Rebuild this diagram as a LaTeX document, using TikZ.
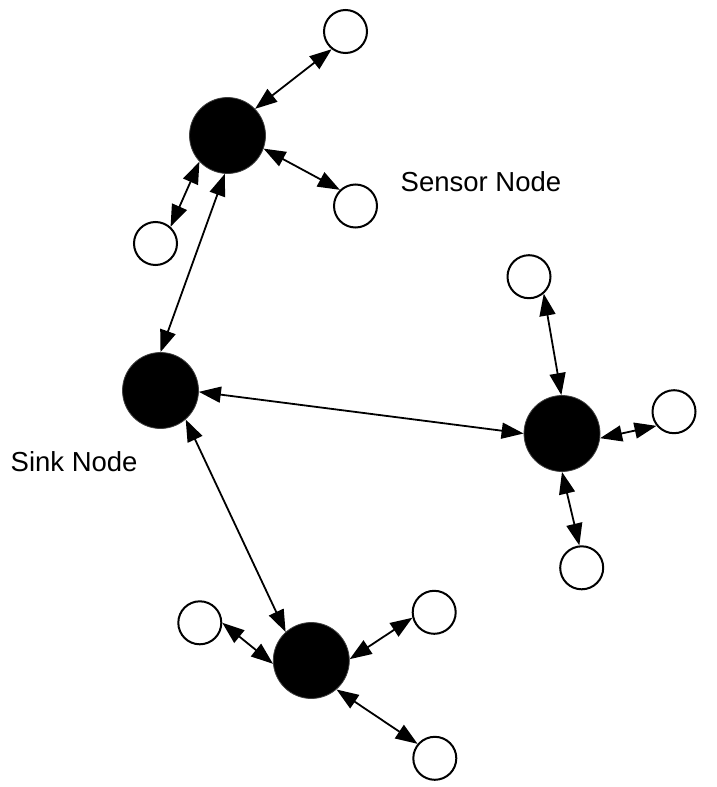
\documentclass[tikz,border=0pt]{standalone}
\usepackage{fontspec}
\setmainfont{Liberation Sans}
\usetikzlibrary{arrows.meta}
\begin{document}
\begin{tikzpicture}[x=1pt,y=-1pt,
  bignode/.style={circle,fill=black,draw=black!75,line width=0.8pt,minimum size=76pt,inner sep=0pt},
  smallnode/.style={circle,fill=white,draw=black,line width=2pt,minimum size=43pt,inner sep=0pt},
  link/.style={line width=1.8pt,{Triangle[length=22pt,width=16pt]}-{Triangle[length=22pt,width=16pt]}},
  lbl/.style={font=\fontsize{27.5}{31}\selectfont,anchor=base west,inner sep=0pt}]
\useasboundingbox (0,0) rectangle (717,787);
% big nodes
\node[bignode] (A) at (227.5,135.5) {};
\node[bignode] (S) at (160.5,390.5) {};
\node[bignode] (C) at (562,433.5) {};
\node[bignode] (D) at (311.3,660.5) {};
% small nodes
\node[smallnode] (a1) at (345.5,31.5) {};
\node[smallnode] (a2) at (355.5,206) {};
\node[smallnode] (a3) at (155.5,243.5) {};
\node[smallnode] (c1) at (529,276.7) {};
\node[smallnode] (c2) at (674,411.7) {};
\node[smallnode] (c3) at (581.7,567.8) {};
\node[smallnode] (d1) at (199.8,622.8) {};
\node[smallnode] (d2) at (434.2,612.3) {};
\node[smallnode] (d3) at (434.8,758.3) {};
% labels
\node[lbl] (sensorlbl) at (400.5,191.7) {Sensor Node};
\node[lbl] (sinklbl) at (10.5,471.7) {Sink Node};
% connectors
\draw[link] (A.266) -- (S.90);
\draw[link] (S.-2) -- (C.180);
\draw[link] (S.-49) -- (D.132);
\draw[link] (A.44) -- (a1.232);
\draw[link] (A.-20) -- (a2.134);
\draw[link] (A.223) -- (a3.48);
\draw[link] (C.91) -- (c1.-49);
\draw[link] (C.-7) -- (c2.219);
\draw[link] (C.270) -- (c3.96);
\draw[link] (D.185) -- (d1.0);
\draw[link] (D.2) -- (d2.194);
\draw[link] (D.-49) -- (d3.140);
\end{tikzpicture}
\end{document}
